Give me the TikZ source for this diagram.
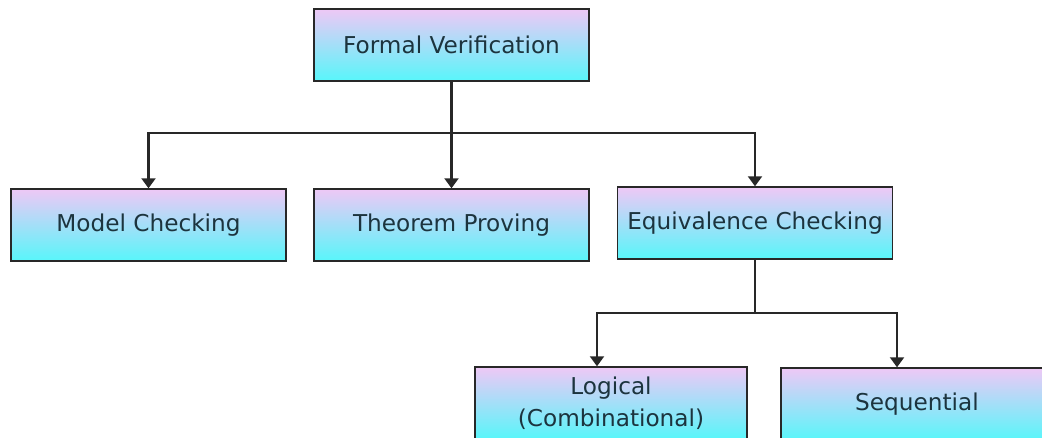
\documentclass[tikz,border=0pt]{standalone}
\usepackage{fontspec}
\setmainfont{DejaVu Sans}
\usetikzlibrary{arrows.meta}

\definecolor{boxtop}{RGB}{238,200,246}
\definecolor{boxmid}{RGB}{160,222,250}
\definecolor{boxbot}{RGB}{88,246,250}
\definecolor{boxline}{RGB}{40,40,40}
\definecolor{boxtext}{RGB}{28,52,62}

\begin{document}
\begin{tikzpicture}[
  x=0.02cm, y=-0.02cm,
  every node/.style={inner sep=1pt},
  box/.style={rectangle, draw=boxline, line width=1.1pt,
    top color=boxtop, middle color=boxmid, bottom color=boxbot,
    minimum width=5.5cm, minimum height=1.43cm, align=center,
    text=boxtext, font=\fontsize{13.2pt}{18pt}\selectfont},
  edge/.style={draw=boxline, line width=1.2pt},
  arrow/.style={draw=boxline, line width=1.2pt,
    -{Triangle[width=0.28cm, length=0.2cm]}}]

  \useasboundingbox (0,0) rectangle (1042,437);
  \clip (0,0) rectangle (1042,437);

  % ---- boxes --------------------------------------------------------------
  \node[box] (fv) at (451.5,45)  {Formal Verification};
  \node[box] (mc) at (148.5,225) {Model Checking};
  \node[box] (tp) at (451.5,225) {Theorem Proving};
  \node[box] (ec) at (755,223)   {Equivalence Checking};
  \node[box, minimum width=5.44cm] (lg) at (611,403) {Logical\\(Combinational)};
  % box runs off the right edge, text sits left of its centre
  \node[box, minimum width=8cm] (sq) at (981,404) {Sequential\kern2.56cm};

  % ---- branch points ------------------------------------------------------
  \coordinate (j1) at (451.5,133);
  \coordinate (j2) at (755,313);

  % ---- arrows -------------------------------------------------------------
  \draw[edge]  (fv) -- (j1);
  \draw[arrow] (j1) -| (mc);
  \draw[arrow] (j1) -- (tp);
  \draw[arrow] (j1) -| (ec);
  \draw[edge]  (ec) -- (j2);
  \draw[arrow] (j2) -| ([xshift=-0.28cm]lg.north);
  \draw[arrow] (j2) -| ([xshift=-1.68cm]sq.north);
\end{tikzpicture}
\end{document}
